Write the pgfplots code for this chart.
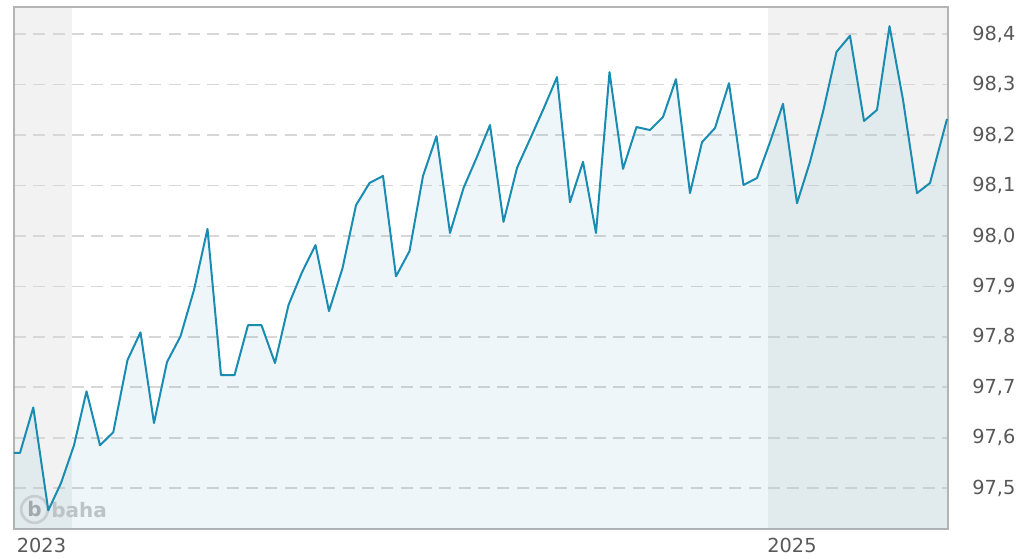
\documentclass[border=0pt]{standalone}
\usepackage{fontspec}
\setmainfont{DejaVu Sans}
\usepackage{pgfplots}
\usepackage{pgfplotstable}
\usepgfplotslibrary{fillbetween}
\pgfplotsset{compat=1.18}
\definecolor{linec}{RGB}{26,140,178}
\definecolor{fillc}{RGB}{85,165,195}
\definecolor{bandc}{RGB}{242,242,242}
\definecolor{gridc}{RGB}{215,215,215}
\definecolor{framec}{RGB}{180,180,180}
\definecolor{labc}{RGB}{88,88,88}
\definecolor{wmc}{RGB}{200,200,200}

\pgfplotstableread{
x y
14 97.570
20 97.570
33.3 97.660
48.3 97.456
61 97.510
74 97.585
86.5 97.692
100 97.585
113.3 97.611
127.5 97.754
140.5 97.809
154 97.629
167 97.750
180.5 97.801
194 97.893
207.5 98.014
221 97.724
234.5 97.724
248 97.823
261.5 97.823
275 97.748
288.5 97.863
302 97.928
315.5 97.982
329 97.851
342.5 97.936
356 98.061
369.5 98.105
383 98.119
396 97.920
409.5 97.970
423 98.119
436.5 98.198
450 98.006
463.5 98.095
477 98.157
490 98.220
503.5 98.028
517 98.135
530 98.192
543.5 98.252
557 98.315
570 98.067
583 98.147
596 98.006
609.5 98.325
623 98.133
636.5 98.216
650 98.210
663 98.236
676 98.311
690 98.085
702 98.186
715 98.214
729 98.303
743.5 98.101
757 98.115
770 98.186
783 98.262
797 98.065
810 98.147
823 98.246
836.5 98.365
850 98.397
864 98.228
877 98.250
889.5 98.416
903 98.270
917 98.085
930 98.105
947 98.232
}\pricedata

\pgfplotstableread{
x y
14 97.419
947 97.419
}\basedata

\begin{document}
\begin{tikzpicture}
\begin{axis}[
  set layers,
  clip=false,
  width=700.5pt, height=391.5pt, scale only axis,
  xmin=14, xmax=948, ymin=97.419, ymax=98.454,
  xtick={41.5,792}, xticklabels={2023,2025},
  ytick={97.5,97.6,97.7,97.8,97.9,98.0,98.1,98.2,98.3,98.4},
  yticklabel pos=right,
  major tick length=0pt,
  ymajorgrids,
  grid style={gridc, line width=1.2pt, dash pattern=on 9pt off 5.5pt},
  axis line style={framec, line width=1.3pt},
  tick label style={font=\fontsize{14.5}{17}\selectfont, text=labc},
  /pgf/number format/.cd, use comma, fixed, fixed zerofill, precision=1, assume math mode=true,
  /pgfplots/.cd,
  yticklabel style={anchor=west, inner sep=0pt, xshift=18pt},
  xticklabel style={anchor=north, inner sep=0pt, yshift=-6.75pt},
]
\path (axis description cs:-0.01499,-0.05556) rectangle (axis description cs:1.08030,1.01341);
\begin{pgfonlayer}{axis background}
\fill[bandc] (axis cs:14,97.419) rectangle (axis cs:72,98.454);
\fill[bandc] (axis cs:768,97.419) rectangle (axis cs:948,98.454);
\draw[wmc!80!white, line width=2pt] (axis description cs:0.02195,0.03736) circle[radius=10pt];
\node[text=wmc!85!black, font=\bfseries\fontsize{15}{15}\selectfont, inner sep=0pt] at (axis description cs:0.02195,0.03736) {b};
\node[anchor=west, text=wmc, font=\bfseries\fontsize{15}{15}\selectfont, inner sep=0pt] at (axis description cs:0.03961,0.0364) {baha};
\end{pgfonlayer}
\addplot[name path=base, draw=none] table {\basedata};
\addplot[name path=price, linec, line width=1.5pt, line join=round] table {\pricedata};
\addplot[draw=none, fill=fillc, fill opacity=0.1] fill between[of=price and base];
\end{axis}
\end{tikzpicture}
\end{document}
